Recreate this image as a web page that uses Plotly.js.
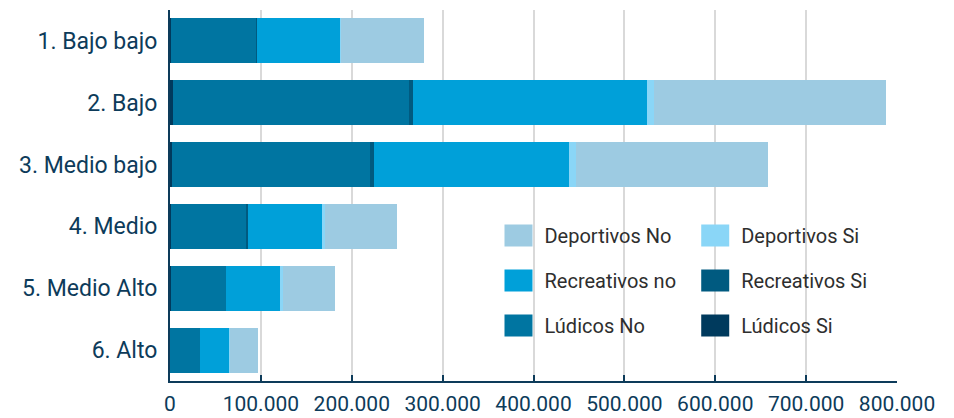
<!DOCTYPE html>
<html>
<head>
<meta charset="utf-8">
<script src="https://cdn.plot.ly/plotly-3.0.1.min.js"></script>
<style>html,body{margin:0;padding:0;background:#fff;}#chart{width:954px;height:418px;}</style>
</head>
<body>
<div id="chart"></div>
<script>
const categories = ["1. Bajo bajo", "2. Bajo", "3. Medio bajo", "4. Medio", "5. Medio Alto", "6. Alto"];
const ludicosSi      = [1000, 3800, 2700, 1000, 800, 500];
const ludicosNo      = [93800, 259500, 217700, 83100, 60500, 32300];
const recreativosSi  = [600, 4400, 4400, 2200, 800, 700];
const recreativosNo  = [92000, 257300, 214400, 81400, 59400, 31900];
const deportivosSi   = [300, 7700, 7400, 2900, 3300, 300];
const deportivosNo   = [92100, 254700, 211100, 79200, 57100, 31600];
const xTickVals = [0, 100000, 200000, 300000, 400000, 500000, 600000, 700000, 800000];
const xTickText = ["0", "100.000", "200.000", "300.000", "400.000", "500.000", "600.000", "700.000", "800.000"];

const seriesDefs = [
  {name: "Lúdicos Si", vals: ludicosSi, color: "#003a5d", legend: "legend2", rank: 3},
  {name: "Lúdicos No", vals: ludicosNo, color: "#0075a1", legend: "legend", rank: 3},
  {name: "Recreativos Si", vals: recreativosSi, color: "#005a80", legend: "legend2", rank: 2},
  {name: "Recreativos no", vals: recreativosNo, color: "#00a0d9", legend: "legend", rank: 2},
  {name: "Deportivos Si", vals: deportivosSi, color: "#8ad6f7", legend: "legend2", rank: 1},
  {name: "Deportivos No", vals: deportivosNo, color: "#9dcbe2", legend: "legend", rank: 1}
];

const traces = seriesDefs.map(s => ({
  type: "bar",
  orientation: "h",
  name: s.name,
  x: s.vals,
  y: categories,
  marker: {color: s.color, line: {width: 0}},
  legend: s.legend,
  legendgroup: s.name,
  legendrank: s.rank,
  hoverinfo: "x+name"
}));

const legendFont = {family: "Roboto, 'DejaVu Sans', sans-serif", size: 20, color: "#2e2e2e"};
const layout = {
  width: 954, height: 418,
  margin: {l: 169.5, r: 56.8, t: 10, b: 37},
  barmode: "stack",
  bargap: 0.27,
  paper_bgcolor: "#ffffff",
  plot_bgcolor: "#ffffff",
  font: {family: "Roboto, 'DejaVu Sans', sans-serif", color: "#0d3b5a"},
  xaxis: {
    range: [0, 800000],
    tickvals: xTickVals,
    ticktext: xTickText,
    showgrid: true,
    gridcolor: "#d9d9d9",
    gridwidth: 2,
    zeroline: false,
    showline: true,
    linecolor: "#0d3b5a",
    linewidth: 2,
    ticks: "inside",
    ticklen: 6,
    tickwidth: 2,
    tickcolor: "#0d3b5a",
    tickfont: {size: 21, color: "#0d3b5a"},
    ticklabelstandoff: 3,
    fixedrange: true
  },
  yaxis: {
    type: "category",
    categoryorder: "array",
    categoryarray: categories,
    autorange: "reversed",
    showgrid: false,
    zeroline: false,
    showline: true,
    linecolor: "#0d3b5a",
    linewidth: 2,
    ticks: "",
    tickfont: {size: 23, color: "#0d3b5a"},
    ticklabelstandoff: 6,
    fixedrange: true
  },
  legend: {
    x: 0.4601, y: 0.445, xanchor: "left", yanchor: "top",
    orientation: "v",
    traceorder: "grouped",
    tracegroupgap: 16,
    itemwidth: 30,
    font: legendFont,
    bgcolor: "rgba(255,255,255,0)",
    borderwidth: 0
  },
  legend2: {
    x: 0.7307, y: 0.445, xanchor: "left", yanchor: "top",
    orientation: "v",
    traceorder: "grouped",
    tracegroupgap: 16,
    itemwidth: 30,
    font: legendFont,
    bgcolor: "rgba(255,255,255,0)",
    borderwidth: 0
  },
  showlegend: true
};

Plotly.newPlot("chart", traces, layout, {displayModeBar: false, staticPlot: true}).then(gd => {
  gd.querySelectorAll("g.legendpoints path").forEach(p => {
    p.setAttribute("d", "M8,11H-22V-11H8Z");
    p.style.strokeWidth = "0";
  });
});
</script>
</body>
</html>
